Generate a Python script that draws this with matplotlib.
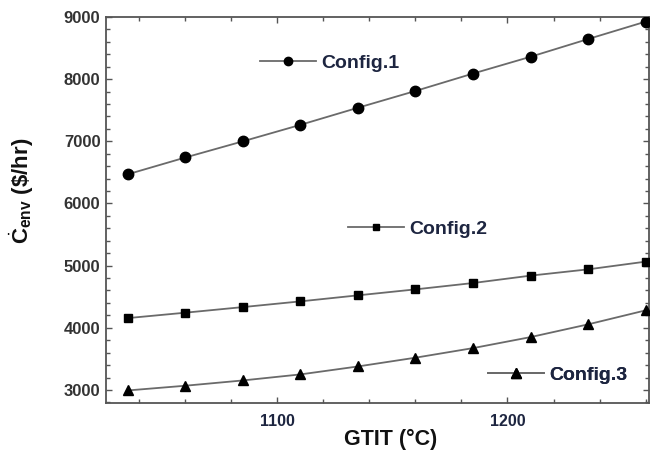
import matplotlib
matplotlib.use("Agg")
import matplotlib.pyplot as plt
from matplotlib.lines import Line2D
from matplotlib.ticker import MultipleLocator

plt.rcParams["font.family"] = ["Liberation Sans", "DejaVu Sans"]
plt.rcParams["mathtext.fontset"] = "custom"
plt.rcParams["mathtext.rm"] = "Liberation Sans"
plt.rcParams["mathtext.bf"] = "Liberation Sans:bold"

# Gas turbine inlet temperature (°C)
gtit = [1035, 1060, 1085, 1110, 1135, 1160, 1185, 1210, 1235, 1260]

# Environmental cost rate ($/hr) for each configuration
config1 = [6470, 6740, 7000, 7265, 7540, 7810, 8090, 8360, 8645, 8925]
config2 = [4156, 4243, 4333, 4425, 4522, 4618, 4720, 4839, 4940, 5064]
config3 = [2992, 3068, 3153, 3250, 3378, 3519, 3673, 3850, 4055, 4280]

series_labels = ["Config.1", "Config.2", "Config.3"]

fig = plt.figure(figsize=(6.5, 4.55), dpi=100)
ax = fig.add_axes([106 / 650, 1 - 403 / 455, 543 / 650, 386 / 455])

line_color = "#6a6a6a"
text_navy = "#1d2540"

styles = [
    dict(marker="o", ms=7.5),
    dict(marker="s", ms=6.0),
    dict(marker="^", ms=7.5),
]

for ys, st in zip([config1, config2, config3], styles):
    ax.plot(gtit, ys, color=line_color, lw=1.3, marker=st["marker"],
            ms=st["ms"], mfc="black", mec="black", zorder=3)

ax.set_xlim(1025.5, 1261.5)
ax.set_ylim(2790, 9000)

ax.xaxis.set_major_locator(MultipleLocator(100))
ax.xaxis.set_minor_locator(MultipleLocator(20))
ax.yaxis.set_major_locator(MultipleLocator(1000))
ax.yaxis.set_minor_locator(MultipleLocator(200))

spine_color = "#555555"
for sp in ax.spines.values():
    sp.set_color(spine_color)
    sp.set_linewidth(1.3)

ax.tick_params(which="both", direction="in", top=True, right=True,
               color=spine_color, width=1.0)
ax.tick_params(which="major", length=4)
ax.tick_params(which="minor", length=3)
ax.tick_params(axis="y", pad=4, labelsize=12, labelcolor="#333333")
ax.tick_params(axis="x", pad=8, labelsize=11.5, labelcolor=text_navy)
for lab in ax.get_xticklabels() + ax.get_yticklabels():
    lab.set_fontweight("bold")

ax.set_xlabel("GTIT (°C)", fontsize=15.5, fontweight="bold", color="#111111")
ax.xaxis.set_label_coords((391 - 106) / 543, -0.066)
ax.set_ylabel(r"$\dot{\mathbf{C}}_{\mathbf{env}}$ (\$/hr)", fontsize=16,
              fontweight="bold", color="#111111")
ax.yaxis.set_label_coords(-0.128, (403 - 191) / 386)

# Individual in-plot labels for each series
anchors = [(0.2836, 0.8808), (0.4457, 0.4508), (0.7035, 0.0725)]
legend_ms = [6.0, 5.0, 6.5]
for st, lab, anchor, lms in zip(styles, series_labels, anchors, legend_ms):
    h = Line2D([], [], color=line_color, lw=1.3, marker=st["marker"], ms=lms,
               mfc="black", mec="black")
    leg = ax.legend(handles=[h], labels=[lab], loc="center left",
                    bbox_to_anchor=anchor, frameon=False, borderpad=0,
                    borderaxespad=0, handlelength=2.9, handletextpad=0.25,
                    prop={"size": 14, "weight": "bold"})
    for t in leg.get_texts():
        t.set_color(text_navy)
    ax.add_artist(leg)

fig.savefig("out.png", dpi=100)
